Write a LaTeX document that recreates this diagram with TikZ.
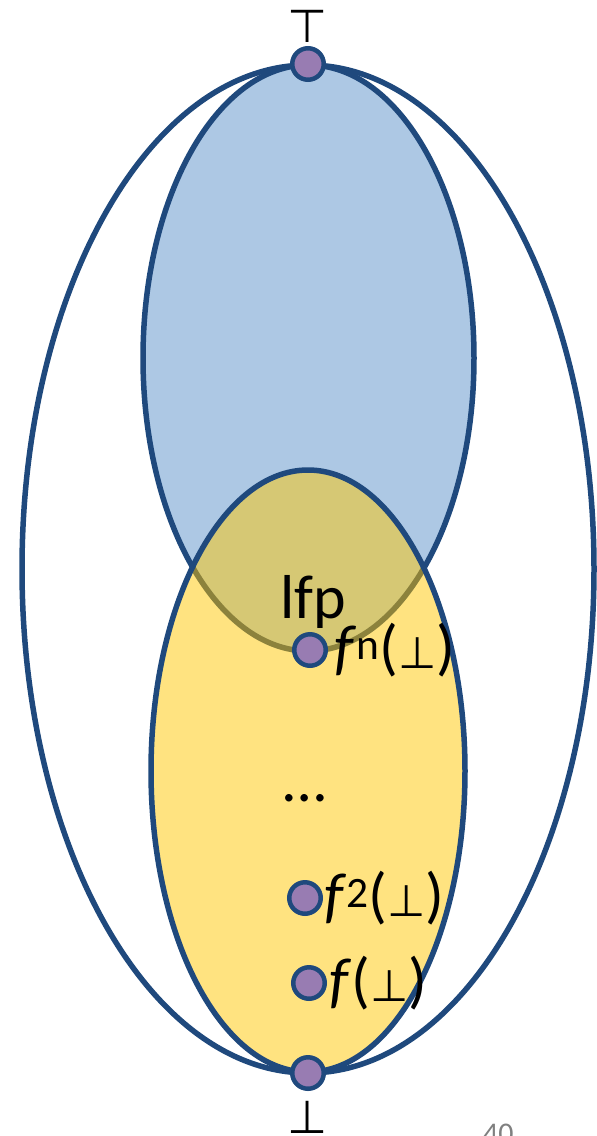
\documentclass[tikz,border=0pt]{standalone}
\usepackage{fontspec}
\setmainfont{Carlito}
\newfontfamily\symfont{DejaVu Sans}
\definecolor{edgeblue}{RGB}{31,73,125}
\definecolor{lightblue}{RGB}{173,200,228}
\definecolor{lightyellow}{RGB}{255,227,128}
\definecolor{olivefill}{RGB}{214,200,116}
\definecolor{oliveedge}{RGB}{140,130,60}
\definecolor{dotpurple}{RGB}{152,124,178}
\tikzset{
  ring/.style={draw=edgeblue, line width=5.5pt},
  pt/.style={circle, draw=edgeblue, fill=dotpurple, line width=4.5pt, minimum size=31.5pt, inner sep=0pt},
  lab/.style={inner sep=0pt, font=\fontsize{62}{72}\selectfont},
  bot/.style={inner sep=0pt, anchor=base, font=\symfont\fontsize{46}{50}\selectfont},
}
\newcommand{\bt}{{\symfont\fontsize{44}{48}\selectfont ⊥}}
\begin{document}
\begin{tikzpicture}[x=1pt,y=-1pt]
\useasboundingbox (0,0) rectangle (597,1136);
% outer
\draw[ring] (308,569) ellipse [x radius=286pt, y radius=504pt];
% blue
\fill[lightblue] (308.5,358) ellipse [x radius=165.5pt, y radius=293pt];
\draw[ring] (308.5,358) ellipse [x radius=165.5pt, y radius=293pt];
% yellow
\fill[lightyellow] (308,771) ellipse [x radius=157pt, y radius=301pt];
\begin{scope}
  \clip (308,771) ellipse [x radius=157pt, y radius=301pt];
  \fill[olivefill] (308.5,358) ellipse [x radius=165.5pt, y radius=293pt];
  \draw[draw=oliveedge, line width=5.5pt] (308.5,358) ellipse [x radius=165.5pt, y radius=293pt];
\end{scope}
\draw[ring] (308,771) ellipse [x radius=157pt, y radius=301pt];
% points
\node[pt] (top) at (308,64) {};
\node[pt] (bottom) at (308,1073) {};
\node[pt] (fn) at (310,650) {};
\node[pt] (f2) at (305,898) {};
\node[pt] (f1) at (309,983) {};
% labels
\node[bot] (toplab) at (308,42) {⊤};
\node[bot] (botlab) at (308,1133) {⊥};
\node[lab, anchor=base] (lfp) at (313,618) {lfp};
\node[lab, anchor=west] (fnlab) at (334,650) {\textit{f}\textsuperscript{n}(\bt)};
\node[lab, anchor=west] (f2lab) at (324,898) {\textit{f}\textsuperscript{2}(\bt)};
\node[lab, anchor=west] (f1lab) at (329,983) {\textit{f}(\bt)};
\node[lab] (dots) at (305,798) {\dots};
\node[inner sep=0pt, anchor=north west, text=gray, font=\fontsize{30}{34}\selectfont] (page) at (483,1124) {40};
\end{tikzpicture}
\end{document}
